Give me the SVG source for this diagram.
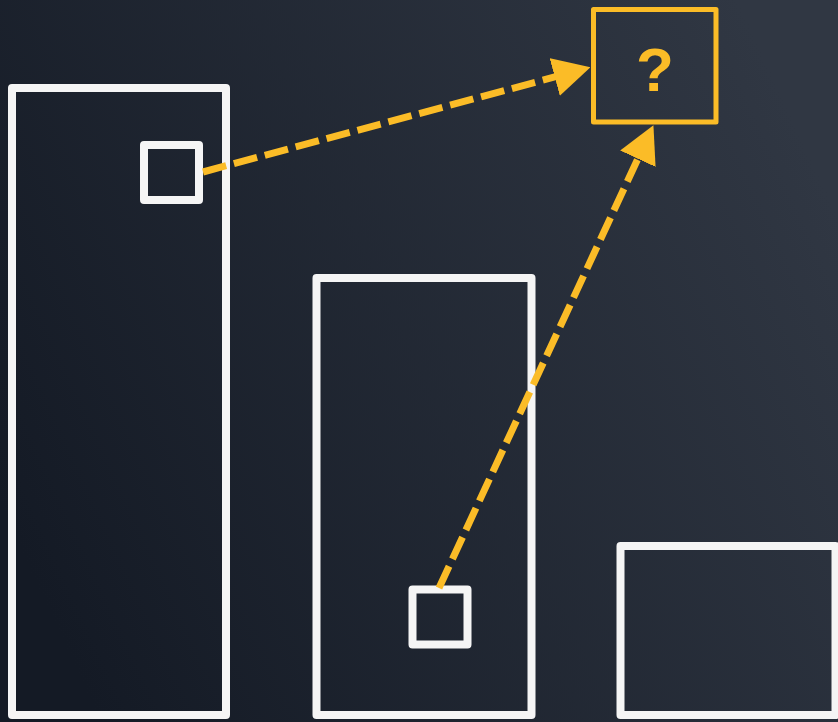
<svg xmlns="http://www.w3.org/2000/svg" width="838" height="722" viewBox="0 0 838 722">
  <defs>
    <linearGradient id="bg" x1="0" y1="0.7" x2="1" y2="0.3">
      <stop offset="0" stop-color="#141a25"/>
      <stop offset="1" stop-color="#303743"/>
    </linearGradient>
    <marker id="arrow" viewBox="0 0 37 39" refX="1" refY="19.5" markerWidth="37" markerHeight="39" markerUnits="userSpaceOnUse" orient="auto">
      <path d="M0,0 L37,19.5 L0,39 Z" fill="#FBBC27"/>
    </marker>
    <style>
      .box { fill: none; stroke: #F5F5F5; stroke-width: 8; stroke-linejoin: round; }
      .q { fill: none; stroke: #FBBC27; stroke-width: 5; stroke-linejoin: round; }
      .conn { fill: none; stroke: #FBBC27; stroke-width: 7; stroke-dasharray: 24 8; marker-end: url(#arrow); }
      .qt { fill: #FBBC27; font-family: "Liberation Sans", Arial, sans-serif; font-weight: bold; font-size: 62px; text-anchor: middle; }
    </style>
  </defs>
  <rect x="0" y="0" width="838" height="722" fill="url(#bg)"/>
  <g id="bar-left"><rect class="box" x="12" y="88" width="214" height="627"/></g>
  <g id="bar-middle"><rect class="box" x="316.5" y="278" width="215" height="437"/></g>
  <g id="bar-right"><rect class="box" x="620.5" y="546" width="215" height="169"/></g>
  <g id="item-left"><rect class="box" x="144" y="145" width="55" height="55"/></g>
  <g id="item-middle"><rect class="box" x="412.5" y="589.5" width="55" height="55"/></g>
  <g id="unknown">
    <rect class="q" x="593.5" y="9.5" width="122.5" height="112.5"/>
    <text class="qt" x="655" y="91">?</text>
  </g>
  <g id="connectors">
    <line class="conn" x1="203" y1="172" x2="555.7" y2="76.7"/>
    <line class="conn" x1="439" y1="588" x2="638.3" y2="157.8"/>
  </g>
</svg>
